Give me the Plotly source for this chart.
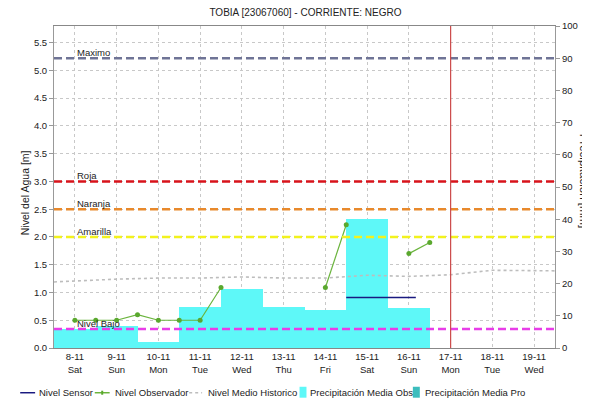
import plotly.graph_objects as go

TITLE = "TOBIA [23067060] - CORRIENTE: NEGRO"
FONT = "Liberation Sans, Arial, sans-serif"

DAYS = ["2014-11-%02d" % d for d in range(8, 20)]
DAY_LABELS = ["8-11<br>Sat", "9-11<br>Sun", "10-11<br>Mon", "11-11<br>Tue", "12-11<br>Wed",
              "13-11<br>Thu", "14-11<br>Fri", "15-11<br>Sat", "16-11<br>Sun", "17-11<br>Mon",
              "18-11<br>Tue", "19-11<br>Wed"]

# precipitacion diaria observada [mm]
PRECIP_DAYS = DAYS[:9]
PRECIP_OBS = [5.9, 6.9, 1.9, 12.8, 18.4, 12.7, 11.7, 40.0, 12.4]

# nivel observador [m] (None = sin dato)
OBS_TIMES = ["2014-11-08 00:00", "2014-11-08 12:00", "2014-11-09 00:00", "2014-11-09 12:00",
             "2014-11-10 00:00", "2014-11-10 12:00", "2014-11-11 00:00", "2014-11-11 12:00",
             "2014-11-12 12:00", "2014-11-14 00:00", "2014-11-14 12:00", "2014-11-15 06:00",
             "2014-11-16 00:00", "2014-11-16 12:00"]
OBS_LEVEL = [0.50, 0.50, 0.50, 0.60, 0.50, 0.50, 0.50, 1.09, None, 1.09, 2.22, None, 1.70, 1.90]

# nivel sensor [m]
SENSOR_TIMES = ["2014-11-14 12:00", "2014-11-15 00:00", "2014-11-15 12:00", "2014-11-16 00:00",
                "2014-11-16 04:00"]
SENSOR_LEVEL = [0.91, 0.91, 0.91, 0.91, 0.91]

# nivel medio historico [m]
HIST_TIMES = ["2014-11-07 12:00"] + DAYS + ["2014-11-19 12:00"]
HIST_LEVEL = [1.19, 1.21, 1.24, 1.26, 1.26, 1.28, 1.26, 1.26, 1.31, 1.29, 1.32, 1.40, 1.39, 1.39]

# umbrales [m]
THRESH_NAMES = ["Maximo", "Roja", "Naranja", "Amarilla", "Nivel Bajo"]
THRESH_VALUES = [5.22, 3.0, 2.5, 2.0, 0.34]
THRESH_COLORS = ["#6F7496", "#D8131B", "#E8892C", "#F2F21E", "#E83DE8"]

NOW = "2014-11-17 00:00"

# la pagina tiene 8px de margen en el body: la figura se dibuja desde (8, 8)
OFF = 8
W, H = 590 - OFF, 404 - OFF
L, R, T, B = 54 - OFF, 32, 24 - OFF, 56


def px(x):
    # x en pixeles de la ventana -> coordenadas paper
    return (x - 54) / 504


def py(y):
    return (348 - y) / 324


fig = go.Figure()

fig.add_trace(go.Bar(x=PRECIP_DAYS, y=PRECIP_OBS, width=86400000, marker_color="#5EF8F8",
                     marker_line_width=0, yaxis="y", name="Precipitación Media Obs"))
fig.add_trace(go.Bar(x=[], y=[], width=86400000, marker_color="#3CBDBD",
                     yaxis="y", name="Precipitación Media Pro"))
fig.add_trace(go.Scatter(x=HIST_TIMES, y=HIST_LEVEL, mode="lines", yaxis="y2",
                         line=dict(color="#BDBDBD", width=1.6, dash="3px,3px"),
                         name="Nivel Medio Historico"))
fig.add_trace(go.Scatter(x=SENSOR_TIMES, y=SENSOR_LEVEL, mode="lines", yaxis="y2",
                         line=dict(color="#1A1A80", width=1.3), name="Nivel Sensor"))
fig.add_trace(go.Scatter(x=OBS_TIMES, y=OBS_LEVEL, mode="lines+markers", yaxis="y2",
                         connectgaps=False, line=dict(color="#6AB43C", width=1.2),
                         marker=dict(size=5, color="#5AA82E"), name="Nivel Observador"))

for name, val, col in zip(THRESH_NAMES, THRESH_VALUES, THRESH_COLORS):
    fig.add_shape(type="line", xref="paper", x0=0, x1=1, yref="y2", y0=val, y1=val,
                  line=dict(color=col, width=2.5, dash="8px,4px"), layer="above")
    fig.add_annotation(x="2014-11-08", xref="x", y=val, yref="y2", text=name, showarrow=False,
                       xanchor="left", yanchor="bottom", yshift=-2,
                       font=dict(size=9.5, color="#222"))

fig.add_shape(type="line", x0=NOW, x1=NOW, xref="x", yref="paper", y0=0, y1=1,
              line=dict(color="#CC4A4A", width=1.2), layer="above")

# leyenda
ly = py(393)
legend_items = [
    ("line", "#1A1A80", 20, 35, 37, "Nivel Sensor"),
    ("marker", "#6AB43C", 95, 110, 113, "Nivel Observador"),
    ("dot", "#BDBDBD", 190, 203, 207, "Nivel Medio Historico"),
    ("box", "#5EF8F8", 301, 308, 310, "Precipitación Media Obs"),
    ("box", "#3CBDBD", 415, 422, 425, "Precipitación Media Pro"),
]
for kind, col, x0, x1, tx, label in legend_items:
    if kind == "box":
        fig.add_shape(type="rect", xref="paper", yref="paper", x0=px(x0), x1=px(x1),
                      y0=py(398), y1=py(387), fillcolor=col, line_width=0)
    else:
        fig.add_shape(type="line", xref="paper", yref="paper", x0=px(x0), x1=px(x1),
                      y0=ly, y1=ly,
                      line=dict(color=col, width=1.5, dash="3px,3px" if kind == "dot" else "solid"))
        if kind == "marker":
            fig.add_shape(type="line", xref="paper", yref="paper", x0=px(101.5), x1=px(103.5),
                          y0=ly, y1=ly, line=dict(color="#5AA82E", width=4))
    fig.add_annotation(x=px(tx), y=ly, xref="paper", yref="paper", text=label, showarrow=False,
                       xanchor="left", yanchor="middle", font=dict(size=9.5, color="#222"))

fig.add_annotation(x=px(25), y=py(192), xref="paper", yref="paper", text="Nivel del Agua [m]",
                   textangle=-90, showarrow=False, xanchor="center", yanchor="middle",
                   font=dict(size=10.5, color="#222"))
fig.add_annotation(x=px(587.5), y=py(180), xref="paper", yref="paper", text="Precipitación [mm]",
                   textangle=90, showarrow=False, xanchor="center", yanchor="middle",
                   font=dict(size=11.5, color="#222"))

fig.update_layout(
    width=W, height=H,
    margin=dict(l=L, r=R, t=T, b=B),
    paper_bgcolor="white", plot_bgcolor="white",
    font=dict(family=FONT, size=9.5, color="#222"),
    title=dict(text=TITLE, x=px(307), xref="paper", xanchor="center",
               y=1 - 4.5 / H, yanchor="middle", font=dict(size=10, color="#222")),
    showlegend=False,
    bargap=0,
    xaxis=dict(type="date", range=["2014-11-07 12:00", "2014-11-19 12:00"],
               tickvals=DAYS, ticktext=DAY_LABELS, tickangle=0,
               showgrid=True, gridcolor="#C8C8C8", griddash="dot", gridwidth=1,
               showline=True, linecolor="#888", mirror=True, ticks="", zeroline=False),
    yaxis=dict(range=[0, 100], side="right", dtick=10, showgrid=False,
               showline=True, linecolor="#999", ticks="outside", ticklen=4, tickcolor="#999",
               zeroline=False),
    yaxis2=dict(range=[0, 5.8], overlaying="y", side="left", dtick=0.5, tickformat=".1f",
                showgrid=True, gridcolor="#C8C8C8", griddash="dot", gridwidth=1,
                showline=True, linecolor="#999", ticks="outside", ticklen=4, tickcolor="#999",
                zeroline=False),
)

fig.write_html("out.html")
